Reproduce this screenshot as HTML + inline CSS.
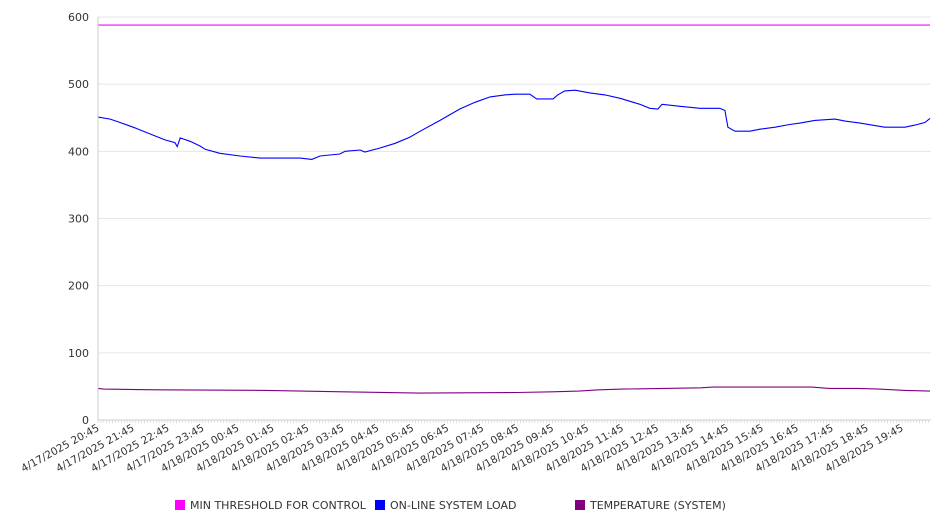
<!DOCTYPE html>
<html><head><meta charset="utf-8"><style>
body{margin:0;background:#fff;}
svg{display:block;font-family:"DejaVu Sans","Liberation Sans",sans-serif;}
</style></head><body>
<svg id="chart" width="946" height="526" viewBox="0 0 946 526" xmlns="http://www.w3.org/2000/svg">
<g id="grid"></g>
<g id="series"></g>
<g id="axes"></g>
<g id="legend">
  <rect x="175" y="500" width="10" height="10" fill="#ff00ff"/>
  <text x="190" y="509" font-size="11" fill="#333">MIN THRESHOLD FOR CONTROL</text>
  <rect x="375" y="500" width="10" height="10" fill="#0000ff"/>
  <text x="390" y="509" font-size="11" fill="#333">ON-LINE SYSTEM LOAD</text>
  <rect x="575" y="500" width="10" height="10" fill="#800080"/>
  <text x="590" y="509" font-size="11" fill="#333">TEMPERATURE (SYSTEM)</text>
</g>
</svg>
<script>
const yTicks=[0,100,200,300,400,500,600];
const xTickLabels=["4/17/2025 20:45","4/17/2025 21:45","4/17/2025 22:45","4/17/2025 23:45","4/18/2025 00:45","4/18/2025 01:45","4/18/2025 02:45","4/18/2025 03:45","4/18/2025 04:45","4/18/2025 05:45","4/18/2025 06:45","4/18/2025 07:45","4/18/2025 08:45","4/18/2025 09:45","4/18/2025 10:45","4/18/2025 11:45","4/18/2025 12:45","4/18/2025 13:45","4/18/2025 14:45","4/18/2025 15:45","4/18/2025 16:45","4/18/2025 17:45","4/18/2025 18:45","4/18/2025 19:45"];
const loadMinutes=[0,21,38,63,89,115,132,136,141,158,175,184,209,244,278,312,347,367,381,415,424,450,458,484,510,535,553,587,621,647,673,698,716,741,753,781,789,801,819,844,870,896,930,947,961,968,999,1033,1067,1076,1081,1093,1119,1136,1162,1187,1205,1230,1265,1282,1308,1350,1385,1402,1419,1428];
const loadValues=[451,448,443,435,426,417,413,407,420,415,408,403,397,393,390,390,390,388,393,396,400,402,399,405,412,421,430,446,463,473,481,484,485,485,478,478,484,490,491,487,484,479,470,464,463,470,467,464,464,461,436,430,430,433,436,440,442,446,448,445,442,436,436,439,443,449];
const tempMinutes=[0,10,100,290,420,550,720,780,825,860,900,1035,1055,1225,1255,1305,1340,1385,1428];
const tempValues=[47,46,45,44,42,40,41,42,43,45,46,48,49,49,47,47,46,44,43];
const thresholdMinutes=[0,1428];
const thresholdValues=[588,588];

const X0=98,X1=931,Y0=420,Y1=17,YMAX=600,PXPERMIN=34.96/60;
const xs=m=>X0+m*PXPERMIN;
const ys=v=>Y0-(v/YMAX)*(Y0-Y1);
const NS="http://www.w3.org/2000/svg";
function mk(t,a){const e=document.createElementNS(NS,t);for(const k in a)e.setAttribute(k,a[k]);return e;}
const grid=document.getElementById('grid'),axes=document.getElementById('axes'),series=document.getElementById('series');
yTicks.forEach(v=>{
  const l=mk('line',{x1:X0,x2:X1,y1:ys(v),y2:ys(v),stroke:'#e6e6e6','stroke-width':1});
  
  
  grid.appendChild(l);
  const t=mk('text',{x:89,y:ys(v)+4,'text-anchor':'end','font-size':11,fill:'#333'});
  t.textContent=v;
  
  
  axes.appendChild(t);
});
const ya=mk('line',{x1:X0,x2:X0,y1:Y1,y2:Y0,stroke:'#ccc'});


axes.appendChild(ya);
const xa=mk('line',{x1:X0,x2:X1,y1:Y0,y2:Y0,stroke:'#ccc'});


axes.appendChild(xa);
for(let m=0;m<=1428;m+=5){
  const tk=mk('line',{x1:xs(m),x2:xs(m),y1:Y0,y2:Y0+3,stroke:'#ccc','stroke-width':0.6});
  
  
  axes.appendChild(tk);
}
xTickLabels.forEach((s,i)=>{
  const x=xs(i*60)+2;
  const t=mk('text',{x:x,y:Y0+10,'text-anchor':'end','font-size':10.5,fill:'#333',transform:`rotate(-29 ${x} ${Y0+10})`});
  t.textContent=s;
  
  
  axes.appendChild(t);
});
function line(ms,vs,color,name){
  const p=mk('polyline',{points:ms.map((m,i)=>xs(m).toFixed(1)+','+ys(vs[i]).toFixed(1)).join(' '),fill:'none',stroke:color,'stroke-width':1.1});
  
  
  series.appendChild(p);
}
line(thresholdMinutes,thresholdValues,'#ff00ff','threshold-line');
line(loadMinutes,loadValues,'#0000ff','system-load-line');
line(tempMinutes,tempValues,'#800080','temperature-line');
</script>
</body></html>
